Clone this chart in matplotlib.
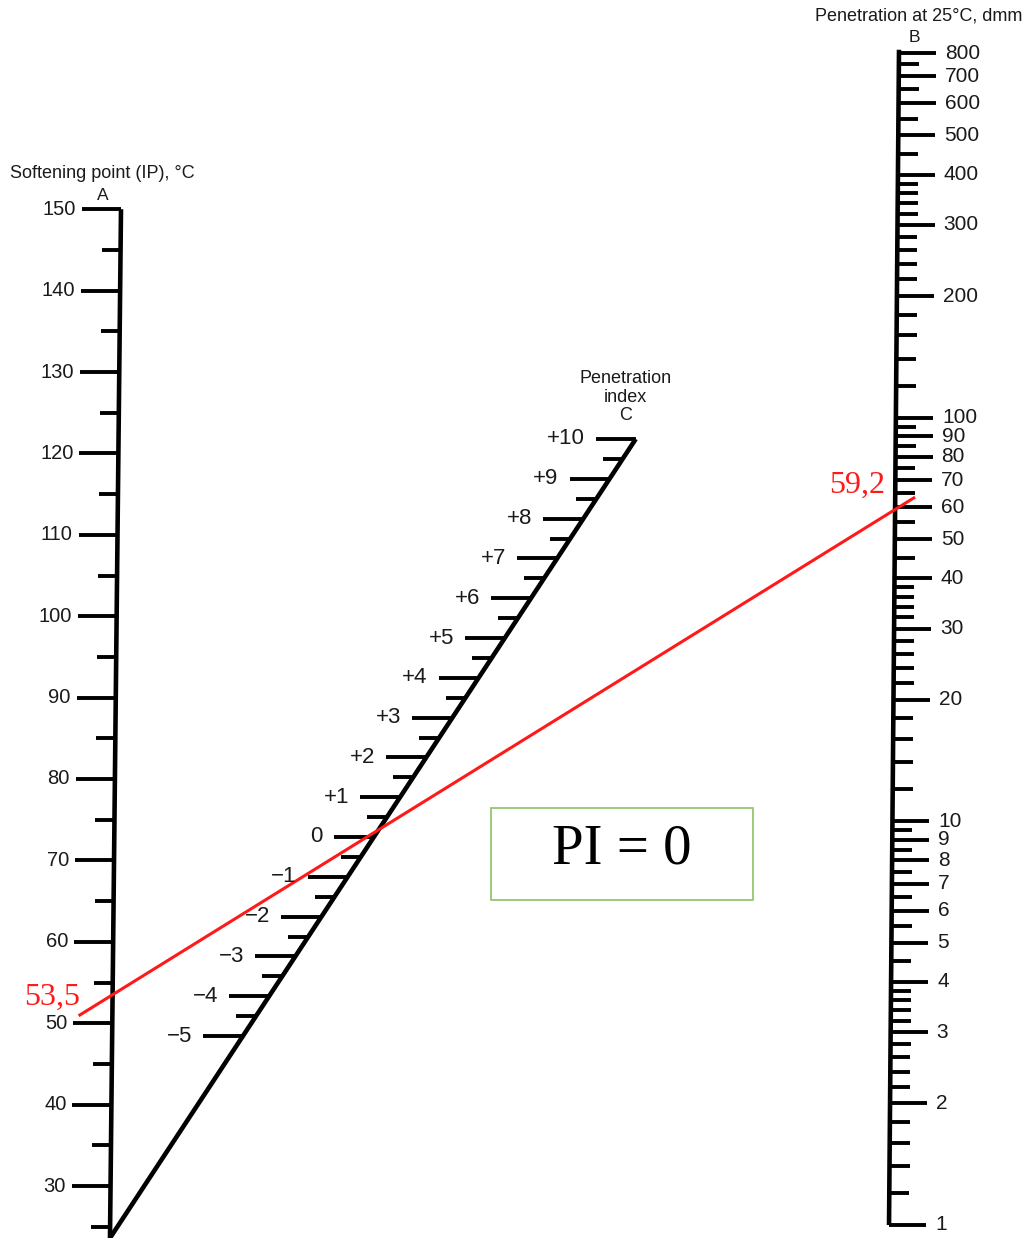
import numpy as np
import matplotlib
matplotlib.use("Agg")
import matplotlib.pyplot as plt
from matplotlib.patches import Rectangle

# Scale A: softening point (IP), degC
a_major = [30, 40, 50, 60, 70, 80, 90, 100, 110, 120, 130, 140, 150]
a_minor = [25, 35, 45, 55, 65, 75, 85, 95, 105, 115, 125, 135, 145]

# Scale B: penetration at 25 degC, dmm (logarithmic)
b_major = [1, 2, 3, 4, 5, 6, 7, 8, 9, 10, 20, 30, 40, 50, 60, 70, 80, 90,
           100, 200, 300, 400, 500, 600, 700, 800]
b_minor = [1.2, 1.4, 1.6, 1.8, 2.2, 2.4, 2.6, 2.8, 3.2, 3.4, 3.6, 3.8,
           4.5, 5.5, 6.5, 7.5, 8.5, 9.5,
           12, 14, 16, 18, 22, 24, 26, 28, 32, 34, 36, 38,
           45, 55, 65, 75, 85, 95,
           120, 140, 160, 180, 220, 240, 260, 280, 320, 340, 360, 380,
           450, 550, 650, 750]

# Scale C: penetration index
c_major = [-5, -4, -3, -2, -1, 0, 1, 2, 3, 4, 5, 6, 7, 8, 9, 10]
c_minor = [-4.5, -3.5, -2.5, -1.5, -0.5, 0.5, 1.5, 2.5, 3.5, 4.5, 5.5,
           6.5, 7.5, 8.5, 9.5]

# the worked example
soft_point = 53.5
penetration = 59.2
pi_result = 0

W, H = 1029, 1238


# --- nomogram scales (value -> figure pixel) ---
def a_y(v):
    return 1186 - (v - 30) * 8.14


def a_x(y):
    return 121 - 0.0107 * (y - 209)   # scan is a bit tilted


def b_y(v):
    return 1225 - np.log10(v) * 403.7


def b_x(y):
    return 899 - 0.0085 * (y - 50)


def c_y(v):
    return 837 - 39.8 * v


def c_x(y):
    return 110 + 0.658 * (1238 - y)


def c_label(v):
    if v > 0:
        return "+%d" % v
    if v < 0:
        return "\u2212%d" % -v
    return "0"


fig = plt.figure(figsize=(W / 100, H / 100), dpi=100)
ax = fig.add_axes([0, 0, 1, 1])
ax.set_xlim(0, W)
ax.set_ylim(H, 0)
ax.axis("off")

sans = "Liberation Sans"
serif = "Liberation Serif"
ink = "#1a1a1a"
axis_lw = 3.3
tick_lw = 2.8

# ---- A ----
ya0, ya1 = a_y(150), a_y(23.5)
ax.plot([a_x(ya0), a_x(ya1)], [ya0, ya1], color="black", lw=axis_lw,
        solid_capstyle="butt")
for v in a_major:
    y = a_y(v)
    ax.plot([a_x(y) - 39, a_x(y)], [y, y], color="black", lw=tick_lw,
            solid_capstyle="butt")
    ax.text(a_x(y) - 45, y, str(v), ha="right", va="center", fontsize=14.5,
            family=sans, color=ink)
for v in a_minor:
    y = a_y(v)
    ax.plot([a_x(y) - 19, a_x(y)], [y, y], color="black", lw=tick_lw,
            solid_capstyle="butt")
ax.text(10, 174, "Softening point (IP), \u00b0C", ha="left", va="center",
        fontsize=13, family=sans, color=ink)
ax.text(a_x(ya0) - 18, 196, "A", ha="center", va="center", fontsize=12.5,
        family=sans, color=ink)

# ---- B ----
yb0, yb1 = b_y(815), b_y(1)
ax.plot([b_x(yb0), b_x(yb1)], [yb0, yb1], color="black", lw=axis_lw,
        solid_capstyle="butt")
for v in b_major:
    y = b_y(v)
    ax.plot([b_x(y), b_x(y) + 37], [y, y], color="black", lw=tick_lw,
            solid_capstyle="butt")
    ax.text(b_x(y) + 46, y, str(v), ha="left", va="center", fontsize=15,
            family=sans, color=ink)
for v in b_minor:
    y = b_y(v)
    ax.plot([b_x(y), b_x(y) + 20], [y, y], color="black", lw=tick_lw,
            solid_capstyle="butt")
ax.text(1022, 16, "Penetration at 25\u00b0C, dmm", ha="right", va="center",
        fontsize=13, family=sans, color=ink)
ax.text(b_x(yb0) + 15, 37, "B", ha="center", va="center", fontsize=12.5,
        family=sans, color=ink)

# ---- C ----
yc0, yc1 = c_y(10), H
ax.plot([c_x(yc0), c_x(yc1)], [yc0, yc1], color="black", lw=axis_lw,
        solid_capstyle="butt")
for v in c_major:
    y = c_y(v)
    ax.plot([c_x(y) - 40, c_x(y)], [y, y], color="black", lw=tick_lw,
            solid_capstyle="butt")
    ax.text(c_x(y) - 51, y, c_label(v), ha="right", va="center", fontsize=16,
            family=sans, color=ink)
for v in c_minor:
    y = c_y(v)
    ax.plot([c_x(y) - 20, c_x(y)], [y, y], color="black", lw=tick_lw,
            solid_capstyle="butt")
ax.text(c_x(yc0) - 10, 397, "Penetration\nindex\nC", ha="center",
        va="center", fontsize=13, family=sans, color=ink, linespacing=1.1)

# ---- example line through A and B ----
pa = np.array([a_x(a_y(soft_point)), a_y(soft_point)])
pb = np.array([b_x(b_y(penetration)), b_y(penetration)])
d = (pb - pa) / (pb[0] - pa[0])
p_left = pa - d * 34
p_right = pb + d * 20
ax.plot([p_left[0], p_right[0]], [p_left[1], p_right[1]], color="#ff1a1a",
        lw=2.2, solid_capstyle="butt")
ax.text(pa[0] - 32, pa[1] + 3, str(soft_point).replace(".", ","),
        ha="right", va="center", fontsize=23, family=serif, color="#ff1a1a")
ax.text(pb[0] - 10, pb[1] - 24, str(penetration).replace(".", ","),
        ha="right", va="center", fontsize=23, family=serif, color="#ff1a1a")

# ---- result box ----
ax.add_patch(Rectangle((491, 808), 262, 92, fill=False, edgecolor="#8cc168",
                       lw=1.2))
ax.text(622, 850, "PI = %d" % pi_result, ha="center", va="center",
        fontsize=41, family=serif, color="black")

fig.savefig("out.png", dpi=100, facecolor="white")
